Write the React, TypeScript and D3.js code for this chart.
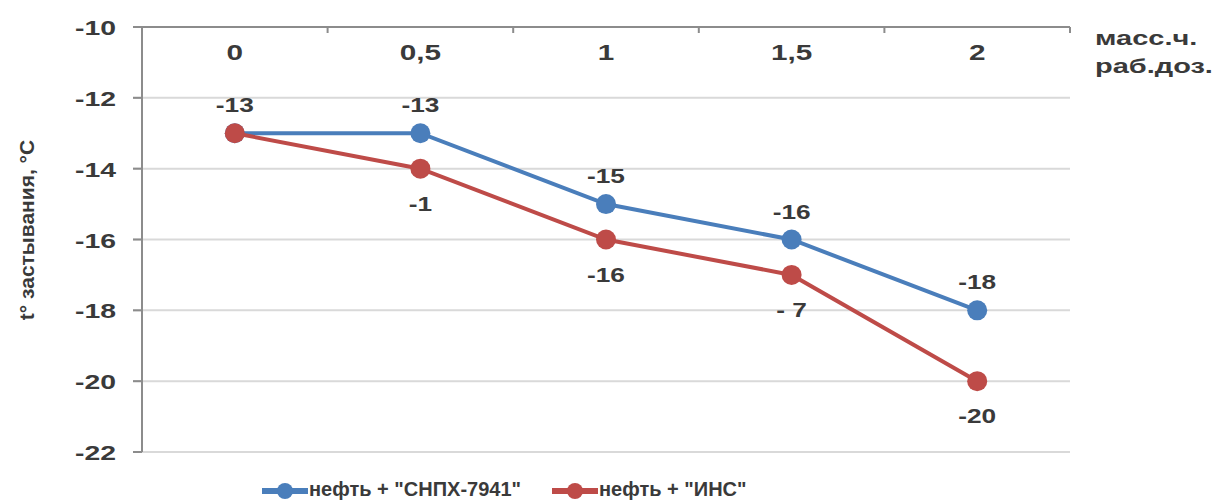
import React from "react";
import * as d3 from "d3";

const categories = ["0", "0,5", "1", "1,5", "2"];
const snpxValues = [-13, -13, -15, -16, -18];
const insValues = [-13, -14, -16, -17, -20];
// data labels as printed in the picture (some are cut)
const snpxLabels = ["-13", "-13", "-15", "-16", "-18"];
const insLabels = ["", "-1", "-16", "-  7", "-20"];
const yTicks = [-10, -12, -14, -16, -18, -20, -22];
const seriesNames = ['нефть + "СНПХ-7941"', 'нефть + "ИНС"'];

const W = 1219;
const H = 501;
const left = 142;
const right = 1070;
const top = 27;
const bottom = 452;
const font = "'Liberation Sans', Arial, sans-serif";
const textColor = "#3a3a3a";
const blue = "#4a7ebb";
const red = "#be4b48";

// text stretched horizontally like the source picture
function T(props: {
  x: number;
  y: number;
  size: number;
  sx?: number;
  anchor?: string;
  children: React.ReactNode;
}) {
  const { x, y, size, sx = 1, anchor = "start", children } = props;
  return (
    <text
      transform={`translate(${x},${y}) scale(${sx},1)`}
      textAnchor={anchor}
      fontSize={size}
      fill={textColor}
    >
      {children}
    </text>
  );
}

export default function App() {
  const x = d3.scaleBand<string>().domain(categories).range([left, right]);
  const y = d3.scaleLinear().domain([-22, -10]).range([bottom, top]);
  const cx = (i: number) => (x(categories[i]) || 0) + x.bandwidth() / 2;

  const line = d3
    .line<number>()
    .x((_d, i) => cx(i))
    .y((d) => y(d));

  const series = [
    { values: snpxValues, labels: snpxLabels, color: blue, dy: -21 },
    { values: insValues, labels: insLabels, color: red, dy: 42 },
  ];

  return (
    <svg
      width={W}
      height={H}
      style={{ position: "absolute", left: 0, top: 0, background: "#fff" }}
      fontFamily={font}
      fontWeight="bold"
    >
      {/* grid + value axis */}
      {yTicks.map((t) => (
        <g key={t}>
          <line x1={left - 9} x2={right} y1={y(t)} y2={y(t)} stroke="#d9d9d9" strokeWidth={2} />
          <line x1={left - 9} x2={left} y1={y(t)} y2={y(t)} stroke="#8c8c8c" strokeWidth={2} />
          <T x={116} y={y(t) + 8} size={21} sx={1.35} anchor="end">
            {t}
          </T>
        </g>
      ))}
      {/* category axis at top */}
      <line x1={left} x2={right} y1={y(-10)} y2={y(-10)} stroke="#8c8c8c" strokeWidth={2} />
      {categories.map((c, i) => (
        <g key={c}>
          <line
            x1={(x(c) || 0) + x.bandwidth()}
            x2={(x(c) || 0) + x.bandwidth()}
            y1={y(-10)}
            y2={y(-10) + 6}
            stroke="#8c8c8c"
            strokeWidth={2}
          />
          <T x={cx(i)} y={60} size={22} sx={1.35} anchor="middle">
            {c}
          </T>
        </g>
      ))}
      <line x1={left} x2={left} y1={top} y2={bottom} stroke="#8c8c8c" strokeWidth={2} />
      <T x={1095} y={45} size={21} sx={1.38}>
        масс.ч.
      </T>
      <T x={1095} y={73} size={21} sx={1.38}>
        раб.доз.
      </T>
      <text
        transform={`translate(34,230) rotate(-90) scale(1.05,1)`}
        textAnchor="middle"
        fontSize={20}
        fill={textColor}
      >
        t° застывания, °C
      </text>

      {/* series */}
      {series.map((s, si) => (
        <g key={si}>
          <path d={line(s.values) || ""} fill="none" stroke={s.color} strokeWidth={4} />
          {s.values.map((v, i) => (
            <circle key={i} cx={cx(i)} cy={y(v)} r={10} fill={s.color} />
          ))}
        </g>
      ))}
      {series.map((s, si) =>
        s.values.map((v, i) => (
          <T key={`${si}-${i}`} x={cx(i)} y={y(v) + s.dy} size={21} sx={1.25} anchor="middle">
            {s.labels[i]}
          </T>
        )),
      )}

      {/* legend */}
      {seriesNames.map((n, i) => {
        const lx = i === 0 ? 262 : 552;
        return (
          <g key={n}>
            <line x1={lx} x2={lx + 46} y1={491} y2={491} stroke={series[i].color} strokeWidth={6} />
            <circle cx={lx + 23} cy={491} r={8} fill={series[i].color} />
            <T x={lx + 47} y={496} size={20}>
              {n}
            </T>
          </g>
        );
      })}
    </svg>
  );
}
